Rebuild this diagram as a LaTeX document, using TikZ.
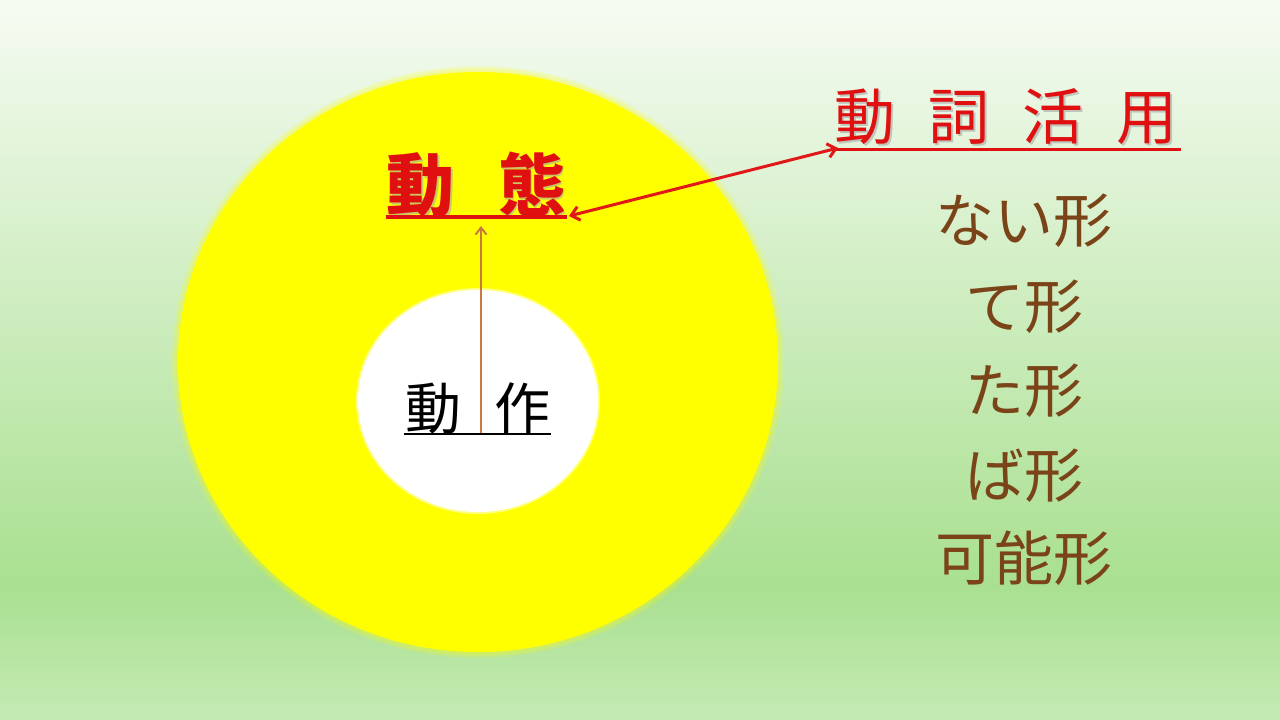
\documentclass[tikz,border=0pt]{standalone}
\usepackage{fontspec}
\setmainfont{Noto Sans CJK JP}
\usetikzlibrary{arrows.meta}
\definecolor{bgtop}{HTML}{F6FBF3}
\definecolor{bgmid}{HTML}{A9E090}
\definecolor{bgbot}{HTML}{C4EAB4}
\definecolor{sunyellow}{HTML}{FFFF00}
\definecolor{txtred}{HTML}{E01010}
\definecolor{arrred}{HTML}{E01818}
\definecolor{arrorange}{HTML}{C87A40}
\definecolor{formbrown}{HTML}{7A4418}
\tikzset{
  title/.style={font=\fontsize{62}{62}\selectfont, text=txtred, inner sep=0pt, anchor=base},
  core/.style={font=\fontsize{56}{56}\selectfont, text=black, inner sep=0pt, anchor=base},
  form/.style={font=\fontsize{59}{59}\selectfont, text=formbrown, inner sep=0pt, anchor=base},
  shadowtxt/.style={text=black!35, opacity=0.6},
}
\begin{document}
\begin{tikzpicture}[x=1pt,y=-1pt]
\useasboundingbox (0,0) rectangle (1280,720);
% background
\shade[top color=bgtop, bottom color=bgmid] (0,0) rectangle (1280,585);
\shade[top color=bgmid, bottom color=bgbot] (0,585) rectangle (1280,720);
% outer yellow ellipse with soft edge
\foreach \d in {6,4,2}{
  \fill[sunyellow, opacity=0.15] (478,362) ellipse [x radius=300+\d, y radius=290+\d];
}
\fill[sunyellow] (478,362) ellipse [x radius=300, y radius=290];
% inner white ellipse
\fill[white, opacity=0.5] (478,401) ellipse [x radius=122, y radius=113];
\fill[white] (478,401) ellipse [x radius=120, y radius=111];

% 動態 title
\node[title, shadowtxt, font=\fontsize{68}{68}\selectfont\bfseries] at (478,212) {動\hspace{44pt}態};
\node[title, font=\fontsize{68}{68}\selectfont\bfseries] (dotai) at (476,210) {動\hspace{44pt}態};
\draw[txtred, line width=3.5pt] (386,217) -- (567,217);
\coordinate (dotaiR) at (569,216);
\coordinate (dotaiB) at (481,226);

% 動作
\node[core] (dosa) at (478,429) {動\hspace{33pt}作};
\draw[black, line width=2pt] (404,434) -- (551,434);
\coordinate (dosaT) at (481,433);

% 動詞活用
\node[title, shadowtxt, font=\fontsize{61}{61}\selectfont] at (1008,141) {動\hspace{33pt}詞\hspace{33pt}活\hspace{33pt}用};
\node[title, font=\fontsize{61}{61}\selectfont] (katsuyo) at (1006,139) {動\hspace{33pt}詞\hspace{33pt}活\hspace{33pt}用};
\draw[txtred, line width=3pt] (836,149) -- (1181,149);
\coordinate (katsuyoL) at (838,148);

% arrows
\draw[arrorange, line width=2pt, -{Straight Barb[length=7pt,width=11pt,line width=2pt]}] (dosaT) -- (dotaiB);
\draw[arrred, line width=3pt, {Straight Barb[length=8pt,width=14pt,line width=3pt]}-{Straight Barb[length=8pt,width=14pt,line width=3pt]}] (dotaiR) -- (katsuyoL);

% forms
\node[form] (f1) at (1024,242) {ない形};
\node[form] (f2) at (1024,328) {て形};
\node[form] (f3) at (1024,412) {た形};
\node[form] (f4) at (1024,497) {ば形};
\node[form] (f5) at (1024,580) {可能形};
\end{tikzpicture}
\end{document}
